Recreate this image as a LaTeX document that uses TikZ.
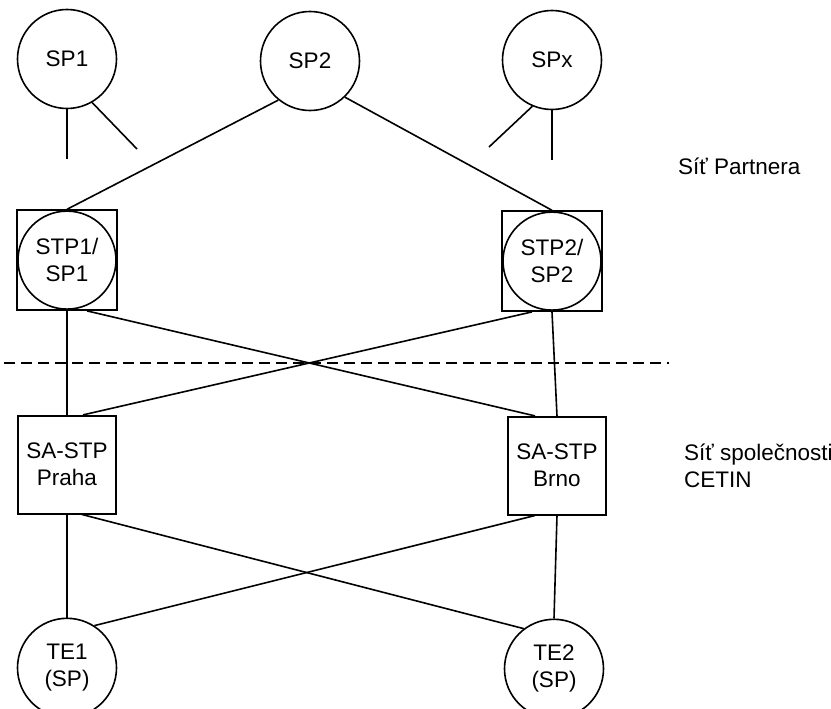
\documentclass[tikz,border=0pt]{standalone}
\usepackage{fontspec}
\setmainfont{Liberation Sans}
\usetikzlibrary{positioning}

\begin{document}
\begin{tikzpicture}[x=1pt, y=-1pt, line width=1.6pt,
    every node/.style={font=\fontsize{22.5}{27}\selectfont, align=center},
    site/.style={draw, circle, minimum size=99pt, inner sep=0pt},
    stpbox/.style={draw, rectangle, minimum size=100pt, inner sep=0pt,
      path picture={\draw[line width=1.6pt] (path picture bounding box.center) circle (49pt);}},
    sastp/.style={draw, rectangle, minimum size=98pt, inner sep=0pt},
    zone/.style={align=left, anchor=west}]
    \useasboundingbox (0,0) rectangle (831,709);
    % partner points
    \node (sp1) [site] at (67,59)  {SP1};
    \node (sp2) [site] at (310,61) {SP2};
    \node (spx) [site] at (552,60) {SPx};
    \node (stp1) [stpbox, below=100pt of sp1] {STP1/\\SP1};
    \node (stp2) [stpbox, below=100pt of spx] {STP2/\\SP2};
    % CETIN
    \node (praha) [sastp, below=104pt of stp1] {SA-STP\\Praha};
    \node (brno)  [sastp, below=104pt of stp2, xshift=5pt] {SA-STP\\Brno};
    \node (te1) [site, below=103pt of praha] {TE1\\(SP)};
    \node (te2) [site, below=103pt of brno, xshift=-3pt] {TE2\\(SP)};
    \node (partner) [zone] at (674,166) {Síť Partnera};
    \node (cetin)   [zone] at (680,466) {Síť společnosti\\CETIN};
    % loose ends
    \coordinate (sp1a) at (67,159);
    \coordinate (sp1b) at (137,149);
    \coordinate (spxa) at (489,147);
    \coordinate (spxb) at (552,160);
    \coordinate (cutl) at (4,363);
    \coordinate (cutr) at (669,363);

    \draw (sp1.south) -- (sp1a);
    \draw (sp1.300) -- (sp1b);
    \draw (spx.247) -- (spxa);
    \draw (spx.south) -- (spxb);
    \draw (sp2.231) -- (stp1.north);
    \draw (sp2.314) -- (stp2.north);
    \draw (stp1.south) -- (praha.north);
    \draw (stp2.south) -- (brno.north);
    \draw ([xshift=20pt]stp1.south) -- ([xshift=-22pt]brno.north);
    \draw ([xshift=-20pt]stp2.south) -- ([xshift=16pt]praha.north);
    \draw (praha.south) -- (te1.north);
    \draw (brno.south) -- (te2.north);
    \draw ([xshift=15pt]praha.south) -- (te2.127);
    \draw ([xshift=-22pt]brno.south) -- (te1.57);
    \draw[dash pattern=on 11pt off 6pt] (cutl) -- (cutr);
  \end{tikzpicture}
\end{document}
